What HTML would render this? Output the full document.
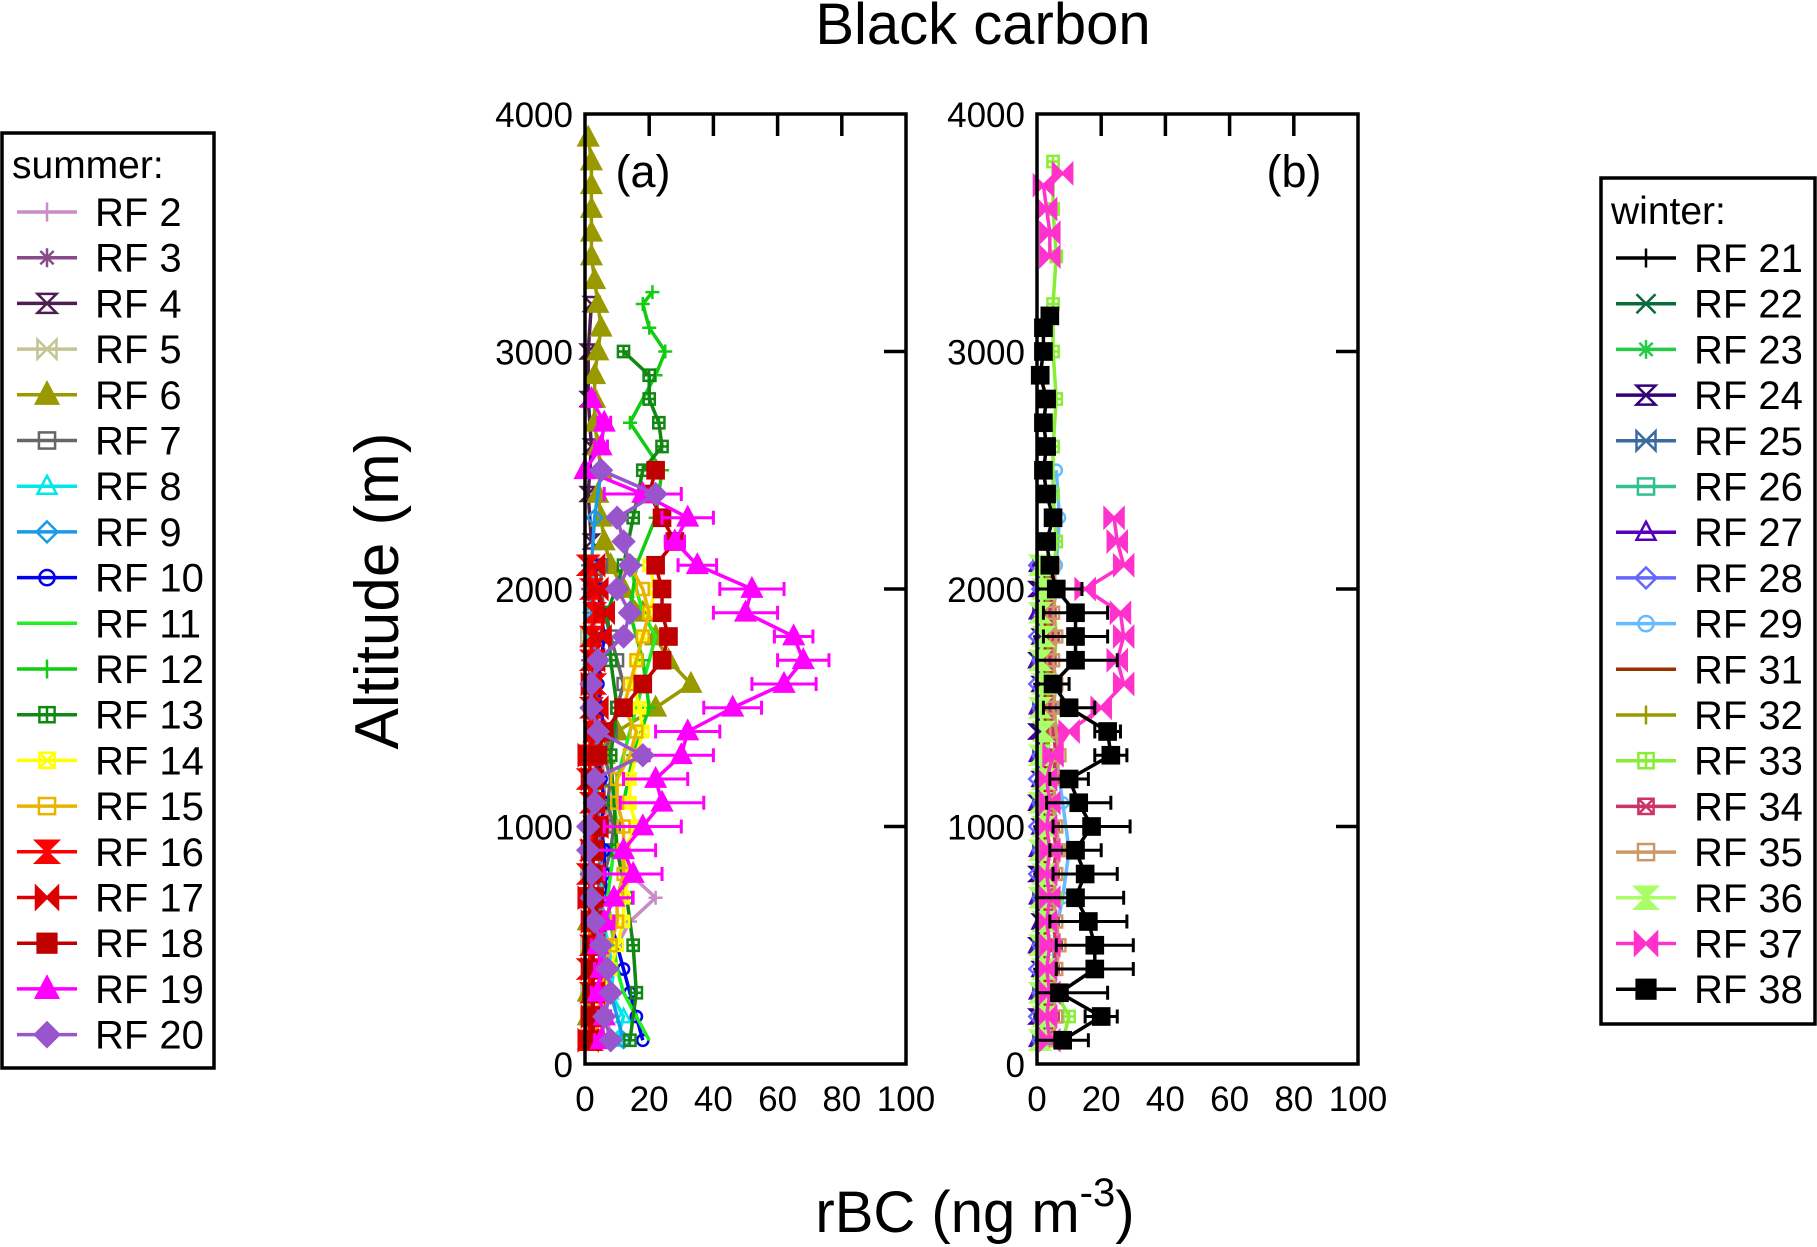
<!DOCTYPE html>
<html><head><meta charset="utf-8"><style>
html,body{margin:0;padding:0;background:#fff}
svg{display:block;font-family:"Liberation Sans",sans-serif}
</style></head><body>
<svg id="chart" width="1817" height="1247" viewBox="0 0 1817 1247" xmlns="http://www.w3.org/2000/svg">
<text x="983" y="44" font-size="58" text-anchor="middle">Black carbon</text>
<text transform="translate(398,591) rotate(-90)" font-size="62" text-anchor="middle">Altitude (m)</text>
<text x="975" y="1232" font-size="58" text-anchor="middle">rBC (ng m<tspan dy="-26" font-size="40">-3</tspan><tspan dy="26">)</tspan></text>
<g id="panels"></g>
<g id="legends"></g>
</svg>
<script>
// ---- data ----
const xTicks=[0,20,40,60,80,100];
const yTicks=[0,1000,2000,3000,4000];
const alt100=[100,200,300,400,500,600,700,800,900,1000,1100,1200,1300,1400,1500,1600,1700,1800,1900,2000,2100,2200,2300,2400,2500,2600,2700,2800];
const altLow=[100,200,300,400,500,600,700,800,900,1000,1100,1200,1300,1400,1500,1600,1700,1800,1900,2000,2100];
// summer
const rf2Val=[8,7,6,8,10,14,22,14,10,8,6,6,5,5,4,4,3,3,3,3,3];
const rf3Val=[1,1,2,1,2,2,1,2,2,1,2,2,1,2,1,2,1,2,2,1,1];
const rf4Alt=[2200,2400,2600,2800,3000,3200];
const rf4Val=[2,1,2,1,1,2];
const rf5Val=[1,1,1,2,1,2,2,1,2,3,2,2,3,2,3,2,2,1,2,2,2];
const rf6Alt=[100,200,300,400,500,600,700,800,900,1000,1100,1200,1300,1400,1500,1600,1700,1800,1900,2000,2100,2200,2300,2400,2500,2600,2700,2800,2900,3000,3100,3200,3300,3400,3500,3600,3700,3800,3900];
const rf6Val=[1,1,1,2,2,1,2,2,3,3,4,4,6,10,22,33,26,22,18,12,8,6,5,4,5,4,3,3,3,4,5,4,3,2,2,2,2,2,1];
const rf7Val=[6,5,7,6,5,6,5,6,8,9,7,8,6,8,10,12,10,8,6,5,5];
const rf8Val=[10,12,8,9,7,6,5,5,4,4,3,3,4,3,3,2,2,2,3,2,2];
const rf9Alt=[100,300,500,700,900,1100,1300,1500,1700,1900,2100,2300,2500];
const rf9Val=[12,8,6,4,5,4,3,4,3,2,2,3,5];
const rf10Val=[18,16,14,12,10,8,7,6,6,5,6,5,4,6,5,4,5,6,5,4,3];
const rf11Val=[20,16,12,10,9,8,7,8,9,10,9,10,12,14,16,18,20,22,18,16,14];
const rf12Alt=[1100,1300,1500,1700,1900,2100,2300,2500,2700,2900,3000,3100,3200,3250];
const rf12Val=[12,15,20,18,14,16,22,24,14,22,25,20,18,21];
const rf13Alt=[100,300,500,700,900,1100,1300,1500,1700,1900,2100,2300,2500,2600,2700,2800,2900,3000];
const rf13Val=[14,16,15,13,10,9,8,10,8,7,12,15,18,24,23,20,20,12];
const rf14Val=[4,6,6,8,10,12,12,14,12,16,14,14,16,18,17,15,16,18,20,22,20];
const rf15Val=[3,4,5,6,8,10,10,12,12,12,10,10,14,16,12,14,16,18,20,18,14];
const rf16Val=[2,3,2,1,2,3,2,1,2,3,2,1,2,3,2,3,2,2,3,2,1];
const rf17Val=[1,2,3,2,3,2,1,3,2,4,3,2,1,3,4,2,3,5,6,4,3];
const rf18Alt=[100,200,300,400,500,600,700,800,900,1000,1100,1200,1300,1400,1500,1600,1700,1800,1900,2000,2100,2200,2300,2400,2500];
const rf18Val=[2,3,2,3,2,4,3,2,3,4,3,3,4,6,12,18,24,26,24,24,22,28,24,20,22];
const rf19Val=[5,6,4,5,4,6,9,15,12,18,24,22,30,32,46,62,68,65,50,52,35,28,32,18,0,5,6,2];
const rf19Err=[2,2,2,2,2,3,6,9,10,12,13,10,10,10,9,10,8,6,10,10,6,3,8,12,1,2,2,1];
const rf20Alt=[100,200,300,400,500,600,700,800,900,1000,1100,1200,1300,1400,1500,1600,1700,1800,1900,2000,2100,2200,2300,2400,2500];
const rf20Val=[8,6,8,7,5,3,2,2,1,1,3,3,18,4,2,2,4,12,14,10,14,12,10,22,5];
// winter
const rf21Val=[1,1,2,1,1,2,1,1,2,1,1,2,1,2,1,1,2,1,1,2,1];
const rf22Val=[2,1,2,3,2,1,2,2,1,2,2,3,2,1,2,2,1,2,2,1,2];
const rf23Val=[3,2,3,2,3,2,3,2,3,2,3,2,3,2,3,2,3,2,3,2,3];
const rf24Val=[1,0,1,1,0,1,1,0,1,1,0,1,1,0,1,1,0,1,1,0,1];
const rf25Val=[1,2,1,2,1,2,1,2,1,2,1,2,1,2,1,2,1,2,1,2,1];
const rf26Val=[2,3,2,3,2,3,2,3,2,3,2,3,2,3,2,3,2,3,2,3,2];
const rf27Val=[0,1,0,1,0,1,0,1,0,1,0,1,0,1,0,1,0,1,0,1,0];
const rf28Val=[1,0,1,0,1,2,1,0,1,0,1,0,1,2,1,0,1,0,2,1,0];
const rf29Alt=[100,300,500,700,900,1100,1300,1500,1700,1900,2100,2300,2500];
const rf29Val=[4,6,5,8,10,8,6,5,4,4,6,7,6];
const rf31Val=[2,2,3,2,2,3,2,2,3,2,2,3,2,2,3,2,2,3,2,2,2];
const rf32Val=[3,4,3,4,3,4,3,4,3,4,3,4,3,4,3,4,3,4,3,4,3];
const rf33Alt=[100,200,300,400,500,600,700,800,900,1000,1200,1400,1600,1800,2000,2200,2400,2600,2800,3000,3200,3400,3600,3800];
const rf33Val=[8,10,6,5,6,5,6,5,7,6,5,6,5,6,5,6,5,5,6,5,5,6,5,5];
const rf34Val=[4,5,4,5,6,5,4,5,6,5,4,5,6,5,4,5,4,5,4,5,4];
const rf35Val=[5,6,5,6,7,6,5,6,7,6,5,6,7,6,5,6,5,6,5,6,5];
const rf36Val=[1,2,1,2,1,2,1,2,1,2,1,2,1,2,1,2,1,2,1,2,1];
const rf37Alt=[100,200,300,400,500,600,700,800,900,1000,1100,1200,1300,1400,1500,1600,1700,1800,1900,2000,2100,2200,2300,null,3400,3500,3600,3700,3750];
const rf37Val=[4,3,4,3,4,3,4,3,4,3,4,3,5,10,20,27,25,27,26,15,27,25,24,null,4,4,3,2,8];
const rf38Alt=[100,200,300,400,500,600,700,800,900,1000,1100,1200,1300,1400,1500,1600,1700,1800,1900,2000,2100,2200,2300,2400,2500,2600,2700,2800,2900,3000,3100,3150];
const rf38Val=[8,20,7,18,18,16,12,15,12,17,13,10,23,22,10,5,12,12,12,6,4,3,5,3,2,3,2,3,1,2,2,4];
const rf38Err=[8,5,15,12,12,12,15,10,8,12,10,6,5,4,8,5,13,10,10,8,1,1,1,1,1,1,1,1,1,1,1,1];

// ---- styles ----
const summer=[
 ["RF 2","#c88cc8","plus",altLow,rf2Val,null],
 ["RF 3","#8a4a8a","star",altLow,rf3Val,null],
 ["RF 4","#4e1e52","hourglass",rf4Alt,rf4Val,null],
 ["RF 5","#c4c494","bowtie",altLow,rf5Val,null],
 ["RF 6","#999900","triF",rf6Alt,rf6Val,null],
 ["RF 7","#666666","sq",altLow,rf7Val,null],
 ["RF 8","#00e8e8","tri",altLow,rf8Val,null],
 ["RF 9","#1a9ae8","dia",rf9Alt,rf9Val,null],
 ["RF 10","#0000ee","circ",altLow,rf10Val,null],
 ["RF 11","#22ee22","none",altLow,rf11Val,null],
 ["RF 12","#11cc11","plus",rf12Alt,rf12Val,null],
 ["RF 13","#118811","sqplus",rf13Alt,rf13Val,null],
 ["RF 14","#ffff00","sqx",altLow,rf14Val,null],
 ["RF 15","#e8b400","sq",altLow,rf15Val,null],
 ["RF 16","#ff0000","hourglassF",altLow,rf16Val,null],
 ["RF 17","#dd0000","bowtieF",altLow,rf17Val,null],
 ["RF 18","#c00000","sqF",rf18Alt,rf18Val,null],
 ["RF 19","#ff00ff","triF",alt100,rf19Val,rf19Err],
 ["RF 20","#9955cc","diaF",rf20Alt,rf20Val,null]];
const winter=[
 ["RF 21","#000000","plus",altLow,rf21Val,null],
 ["RF 22","#0a6a3a","x",altLow,rf22Val,null],
 ["RF 23","#22cc44","star",altLow,rf23Val,null],
 ["RF 24","#330077","hourglass",altLow,rf24Val,null],
 ["RF 25","#3a6aa0","bowtie",altLow,rf25Val,null],
 ["RF 26","#33c090","sq",altLow,rf26Val,null],
 ["RF 27","#5500bb","tri",altLow,rf27Val,null],
 ["RF 28","#6666ff","dia",altLow,rf28Val,null],
 ["RF 29","#66bbff","circ",rf29Alt,rf29Val,null],
 ["RF 31","#993300","none",altLow,rf31Val,null],
 ["RF 32","#999900","plus",altLow,rf32Val,null],
 ["RF 33","#88ee33","sqplus",rf33Alt,rf33Val,null],
 ["RF 34","#cc3366","sqx",altLow,rf34Val,null],
 ["RF 35","#cc9966","sq",altLow,rf35Val,null],
 ["RF 36","#aaff66","hourglassF",altLow,rf36Val,null],
 ["RF 37","#ff33cc","bowtieF",rf37Alt,rf37Val,null],
 ["RF 38","#000000","sqF",rf38Alt,rf38Val,rf38Err]];

const NS="http://www.w3.org/2000/svg";
function mk(tag,attrs,parent){const e=document.createElementNS(NS,tag);for(const k in attrs)e.setAttribute(k,attrs[k]);parent.appendChild(e);return e;}
const Y0=1064,Y1=114;
function yScale(a){return Y0+(Y1-Y0)*a/4000;}

function marker(g,type,cx,cy,col,s){
 const h=s/2;let el;const sw=2.5;
 if(type==="plus"){el=mk("path",{d:`M${cx-h} ${cy}H${cx+h}M${cx} ${cy-h}V${cy+h}`,stroke:col,"stroke-width":sw,fill:"none"},g);}
 else if(type==="x"){el=mk("path",{d:`M${cx-h} ${cy-h}L${cx+h} ${cy+h}M${cx-h} ${cy+h}L${cx+h} ${cy-h}`,stroke:col,"stroke-width":sw,fill:"none"},g);}
 else if(type==="star"){el=mk("path",{d:`M${cx-h} ${cy}H${cx+h}M${cx} ${cy-h}V${cy+h}M${cx-h*.7} ${cy-h*.7}L${cx+h*.7} ${cy+h*.7}M${cx-h*.7} ${cy+h*.7}L${cx+h*.7} ${cy-h*.7}`,stroke:col,"stroke-width":sw,fill:"none"},g);}
 else if(type==="hourglass"||type==="hourglassF"){el=mk("path",{d:`M${cx-h} ${cy-h}H${cx+h}L${cx-h} ${cy+h}H${cx+h}Z`,stroke:col,"stroke-width":sw,fill:type==="hourglassF"?col:"none"},g);}
 else if(type==="bowtie"||type==="bowtieF"){el=mk("path",{d:`M${cx-h} ${cy-h}V${cy+h}L${cx+h} ${cy-h}V${cy+h}Z`,stroke:col,"stroke-width":sw,fill:type==="bowtieF"?col:"none"},g);}
 else if(type==="tri"||type==="triF"){el=mk("path",{d:`M${cx} ${cy-h*1.1}L${cx+h} ${cy+h*.8}H${cx-h}Z`,stroke:col,"stroke-width":sw,fill:type==="triF"?col:"none"},g);}
 else if(type==="sq"||type==="sqF"){el=mk("rect",{x:cx-h*.85,y:cy-h*.85,width:h*1.7,height:h*1.7,stroke:col,"stroke-width":sw,fill:type==="sqF"?col:"none"},g);}
 else if(type==="sqplus"){el=mk("path",{d:`M${cx-h*.8} ${cy-h*.8}h${h*1.6}v${h*1.6}h${-h*1.6}ZM${cx-h*.8} ${cy}H${cx+h*.8}M${cx} ${cy-h*.8}V${cy+h*.8}`,stroke:col,"stroke-width":sw,fill:"none"},g);}
 else if(type==="sqx"){el=mk("path",{d:`M${cx-h*.8} ${cy-h*.8}h${h*1.6}v${h*1.6}h${-h*1.6}ZM${cx-h*.8} ${cy-h*.8}L${cx+h*.8} ${cy+h*.8}M${cx-h*.8} ${cy+h*.8}L${cx+h*.8} ${cy-h*.8}`,stroke:col,"stroke-width":sw,fill:"none"},g);}
 else if(type==="dia"||type==="diaF"){el=mk("path",{d:`M${cx} ${cy-h*1.1}L${cx+h*1.1} ${cy}L${cx} ${cy+h*1.1}L${cx-h*1.1} ${cy}Z`,stroke:col,"stroke-width":sw,fill:type==="diaF"?col:"none"},g);}
 else if(type==="circ"){el=mk("circle",{cx:cx,cy:cy,r:h*.8,stroke:col,"stroke-width":sw,fill:"none"},g);}
 return el;
}

const panels=document.getElementById("panels");
function drawPanel(id,label,labelX,left,right,series){
 const g=mk("g",{},panels);
 
 
 const xs=v=>left+(right-left)*v/100;
 const data=mk("g",{},g);
 series.forEach(s=>{
  const [name,col,mtype,alts,vals,errs]=s;
  const sg=mk("g",{},data);
  
  
  let d="",pen=false;
  for(let i=0;i<alts.length;i++){
   if(alts[i]===null||vals[i]===null){pen=false;continue;}
   d+=(pen?"L":"M")+xs(vals[i])+" "+yScale(alts[i]);pen=true;
  }
  mk("path",{d:d,stroke:col,"stroke-width":3.5,fill:"none","stroke-linejoin":"round"},sg);
  if(errs){
   for(let i=0;i<alts.length;i++){
    const y=yScale(alts[i]),x1=xs(Math.max(vals[i]-errs[i],0)),x2=xs(vals[i]+errs[i]);
    mk("path",{d:`M${x1} ${y}H${x2}M${x1} ${y-7}V${y+7}M${x2} ${y-7}V${y+7}`,stroke:col,"stroke-width":3,fill:"none"},sg);
   }
  }
  if(mtype!=="none"){
   for(let i=0;i<alts.length;i++){
    if(alts[i]===null||vals[i]===null)continue;
    marker(sg,mtype,xs(vals[i]),yScale(alts[i]),col,mtype.endsWith("F")?19:14);
   }
  }
 });
 const frame=mk("rect",{x:left,y:Y1,width:right-left,height:Y0-Y1,fill:"none",stroke:"#000","stroke-width":3.5},g);
 
 
 xTicks.forEach(v=>{
  const x=xs(v);
  if(v>0&&v<100)mk("line",{x1:x,y1:Y1,x2:x,y2:Y1+22,stroke:"#000","stroke-width":3.5},g);
  const t=mk("text",{x:x,y:1111,"font-size":35,"text-anchor":"middle"},g);
  t.textContent=v;
  
  
 });
 yTicks.forEach(a=>{
  const y=yScale(a);
  if(a>0&&a<4000)mk("line",{x1:right-22,y1:y,x2:right,y2:y,stroke:"#000","stroke-width":3.5},g);
  const t=mk("text",{x:left-12,y:y+13,"font-size":35,"text-anchor":"end"},g);
  t.textContent=a;
  
  
 });
 const pl=mk("text",{x:labelX,y:187,"font-size":45,"text-anchor":"middle"},g);
 pl.textContent=label;
 
 
}
drawPanel("a","(a)",643,585,906,summer);
drawPanel("b","(b)",1294,1037,1358,winter);

const legends=document.getElementById("legends");
function drawLegend(id,title,bx,by,bw,bh,titleY,row0,series){
 const g=mk("g",{},legends);
 
 
 mk("rect",{x:bx,y:by,width:bw,height:bh,fill:"#fff",stroke:"#000","stroke-width":3.5},g);
 const tt=mk("text",{x:bx+10,y:titleY,"font-size":39},g);
 tt.textContent=title;
 
 
 series.forEach((s,i)=>{
  const y=row0+i*45.7;
  const eg=mk("g",{},g);
  
  
  mk("line",{x1:bx+15,y1:y,x2:bx+75,y2:y,stroke:s[1],"stroke-width":3.5},eg);
  if(s[2]!=="none")marker(eg,s[2],bx+45,y,s[1],s[2].endsWith("F")?22:19);
  const t=mk("text",{x:bx+93,y:y+14,"font-size":40},eg);
  t.textContent=s[0];
 });
}
drawLegend("summer","summer:",2,133,212,935,178,212,summer);
drawLegend("winter","winter:",1601,178,214,846,224,258,winter);
</script>
</body></html>
